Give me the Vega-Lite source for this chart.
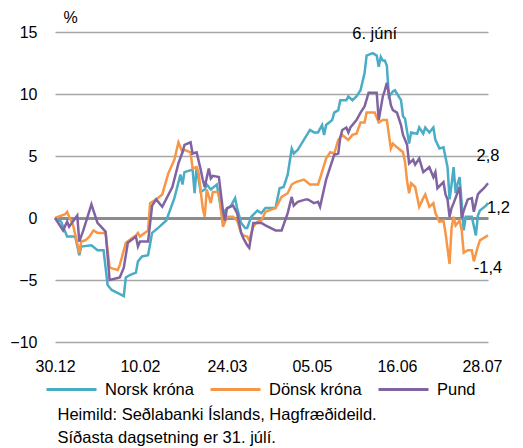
{
  "$schema": "https://vega.github.io/schema/vega-lite/v6.json",
  "width": 433,
  "height": 310,
  "autosize": {"type": "none"},
  "padding": {"left": 55, "top": 32, "right": 35, "bottom": 106},
  "background": "white",
  "config": {"view": {"stroke": null}, "font": "Liberation Sans"},
  "datasets": {
    "series": [
      {"s":"Norsk króna","d":"2019-12-30","v":0.0},
      {"s":"Norsk króna","d":"2020-01-02","v":-0.3},
      {"s":"Norsk króna","d":"2020-01-05","v":-1.5},
      {"s":"Norsk króna","d":"2020-01-09","v":-1.5},
      {"s":"Norsk króna","d":"2020-01-11","v":-3.0},
      {"s":"Norsk króna","d":"2020-01-12","v":-2.3},
      {"s":"Norsk króna","d":"2020-01-17","v":-2.2},
      {"s":"Norsk króna","d":"2020-01-20","v":-2.6},
      {"s":"Norsk króna","d":"2020-01-23","v":-2.6},
      {"s":"Norsk króna","d":"2020-01-25","v":-5.4},
      {"s":"Norsk króna","d":"2020-01-27","v":-5.8},
      {"s":"Norsk króna","d":"2020-02-02","v":-6.3},
      {"s":"Norsk króna","d":"2020-02-03","v":-4.8},
      {"s":"Norsk króna","d":"2020-02-05","v":-4.6},
      {"s":"Norsk króna","d":"2020-02-08","v":-4.4},
      {"s":"Norsk króna","d":"2020-02-09","v":-3.5},
      {"s":"Norsk króna","d":"2020-02-11","v":-3.1},
      {"s":"Norsk króna","d":"2020-02-14","v":-3.0},
      {"s":"Norsk króna","d":"2020-02-16","v":-1.2},
      {"s":"Norsk króna","d":"2020-02-19","v":-0.8},
      {"s":"Norsk króna","d":"2020-02-23","v":-0.2},
      {"s":"Norsk króna","d":"2020-02-27","v":1.6},
      {"s":"Norsk króna","d":"2020-03-01","v":3.5},
      {"s":"Norsk króna","d":"2020-03-02","v":2.7},
      {"s":"Norsk króna","d":"2020-03-03","v":3.7},
      {"s":"Norsk króna","d":"2020-03-07","v":3.9},
      {"s":"Norsk króna","d":"2020-03-08","v":2.0},
      {"s":"Norsk króna","d":"2020-03-09","v":4.1},
      {"s":"Norsk króna","d":"2020-03-11","v":2.1},
      {"s":"Norsk króna","d":"2020-03-13","v":2.3},
      {"s":"Norsk króna","d":"2020-03-14","v":2.7},
      {"s":"Norsk króna","d":"2020-03-16","v":2.3},
      {"s":"Norsk króna","d":"2020-03-19","v":2.7},
      {"s":"Norsk króna","d":"2020-03-22","v":-0.2},
      {"s":"Norsk króna","d":"2020-03-23","v":0.6},
      {"s":"Norsk króna","d":"2020-03-26","v":1.0},
      {"s":"Norsk króna","d":"2020-03-28","v":1.6},
      {"s":"Norsk króna","d":"2020-03-29","v":0.8},
      {"s":"Norsk króna","d":"2020-03-31","v":-0.4},
      {"s":"Norsk króna","d":"2020-04-02","v":-0.8},
      {"s":"Norsk króna","d":"2020-04-03","v":-0.8},
      {"s":"Norsk króna","d":"2020-04-05","v":0.1},
      {"s":"Norsk króna","d":"2020-04-08","v":0.6},
      {"s":"Norsk króna","d":"2020-04-10","v":0.4},
      {"s":"Norsk króna","d":"2020-04-12","v":0.8},
      {"s":"Norsk króna","d":"2020-04-17","v":0.8},
      {"s":"Norsk króna","d":"2020-04-19","v":2.4},
      {"s":"Norsk króna","d":"2020-04-21","v":2.5},
      {"s":"Norsk króna","d":"2020-04-23","v":3.5},
      {"s":"Norsk króna","d":"2020-04-25","v":5.6},
      {"s":"Norsk króna","d":"2020-04-26","v":5.2},
      {"s":"Norsk króna","d":"2020-04-28","v":5.5},
      {"s":"Norsk króna","d":"2020-05-04","v":7.1},
      {"s":"Norsk króna","d":"2020-05-06","v":6.9},
      {"s":"Norsk króna","d":"2020-05-08","v":6.9},
      {"s":"Norsk króna","d":"2020-05-10","v":7.5},
      {"s":"Norsk króna","d":"2020-05-11","v":6.7},
      {"s":"Norsk króna","d":"2020-05-12","v":7.5},
      {"s":"Norsk króna","d":"2020-05-15","v":7.9},
      {"s":"Norsk króna","d":"2020-05-16","v":8.5},
      {"s":"Norsk króna","d":"2020-05-18","v":8.7},
      {"s":"Norsk króna","d":"2020-05-19","v":9.5},
      {"s":"Norsk króna","d":"2020-05-22","v":9.5},
      {"s":"Norsk króna","d":"2020-05-23","v":9.8},
      {"s":"Norsk króna","d":"2020-05-25","v":9.5},
      {"s":"Norsk króna","d":"2020-05-27","v":9.8},
      {"s":"Norsk króna","d":"2020-05-29","v":10.3},
      {"s":"Norsk króna","d":"2020-05-31","v":11.7},
      {"s":"Norsk króna","d":"2020-06-01","v":13.1},
      {"s":"Norsk króna","d":"2020-06-04","v":13.3},
      {"s":"Norsk króna","d":"2020-06-06","v":13.1},
      {"s":"Norsk króna","d":"2020-06-07","v":12.2},
      {"s":"Norsk króna","d":"2020-06-08","v":13.0},
      {"s":"Norsk króna","d":"2020-06-09","v":12.7},
      {"s":"Norsk króna","d":"2020-06-10","v":12.7},
      {"s":"Norsk króna","d":"2020-06-11","v":12.3},
      {"s":"Norsk króna","d":"2020-06-12","v":9.8},
      {"s":"Norsk króna","d":"2020-06-14","v":10.2},
      {"s":"Norsk króna","d":"2020-06-15","v":10.3},
      {"s":"Norsk króna","d":"2020-06-18","v":9.5},
      {"s":"Norsk króna","d":"2020-06-19","v":8.2},
      {"s":"Norsk króna","d":"2020-06-20","v":8.0},
      {"s":"Norsk króna","d":"2020-06-22","v":6.0},
      {"s":"Norsk króna","d":"2020-06-23","v":6.9},
      {"s":"Norsk króna","d":"2020-06-26","v":6.8},
      {"s":"Norsk króna","d":"2020-06-27","v":7.3},
      {"s":"Norsk króna","d":"2020-06-29","v":6.8},
      {"s":"Norsk króna","d":"2020-06-30","v":7.3},
      {"s":"Norsk króna","d":"2020-07-02","v":6.9},
      {"s":"Norsk króna","d":"2020-07-04","v":7.3},
      {"s":"Norsk króna","d":"2020-07-05","v":6.3},
      {"s":"Norsk króna","d":"2020-07-07","v":5.6},
      {"s":"Norsk króna","d":"2020-07-09","v":5.7},
      {"s":"Norsk króna","d":"2020-07-11","v":4.1},
      {"s":"Norsk króna","d":"2020-07-12","v":1.5},
      {"s":"Norsk króna","d":"2020-07-13","v":2.7},
      {"s":"Norsk króna","d":"2020-07-14","v":4.1},
      {"s":"Norsk króna","d":"2020-07-15","v":2.0},
      {"s":"Norsk króna","d":"2020-07-16","v":2.8},
      {"s":"Norsk króna","d":"2020-07-17","v":3.3},
      {"s":"Norsk króna","d":"2020-07-19","v":-1.0},
      {"s":"Norsk króna","d":"2020-07-20","v":0.1},
      {"s":"Norsk króna","d":"2020-07-23","v":0.1},
      {"s":"Norsk króna","d":"2020-07-25","v":-1.4},
      {"s":"Norsk króna","d":"2020-07-26","v":0.2},
      {"s":"Norsk króna","d":"2020-07-27","v":0.6},
      {"s":"Norsk króna","d":"2020-07-30","v":1.0},
      {"s":"Norsk króna","d":"2020-07-31","v":1.2},

      {"s":"Dönsk króna","d":"2019-12-30","v":0.0},
      {"s":"Dönsk króna","d":"2020-01-04","v":0.3},
      {"s":"Dönsk króna","d":"2020-01-05","v":0.5},
      {"s":"Dönsk króna","d":"2020-01-06","v":0.1},
      {"s":"Dönsk króna","d":"2020-01-08","v":-0.6},
      {"s":"Dönsk króna","d":"2020-01-11","v":-2.8},
      {"s":"Dönsk króna","d":"2020-01-12","v":-1.9},
      {"s":"Dönsk króna","d":"2020-01-14","v":-1.8},
      {"s":"Dönsk króna","d":"2020-01-16","v":-1.5},
      {"s":"Dönsk króna","d":"2020-01-18","v":-1.0},
      {"s":"Dönsk króna","d":"2020-01-20","v":-1.2},
      {"s":"Dönsk króna","d":"2020-01-24","v":-1.2},
      {"s":"Dönsk króna","d":"2020-01-26","v":-4.0},
      {"s":"Dönsk króna","d":"2020-01-30","v":-4.2},
      {"s":"Dönsk króna","d":"2020-01-31","v":-3.8},
      {"s":"Dönsk króna","d":"2020-02-03","v":-2.0},
      {"s":"Dönsk króna","d":"2020-02-08","v":-1.4},
      {"s":"Dönsk króna","d":"2020-02-09","v":-1.2},
      {"s":"Dönsk króna","d":"2020-02-10","v":-1.5},
      {"s":"Dönsk króna","d":"2020-02-14","v":-1.0},
      {"s":"Dönsk króna","d":"2020-02-15","v":1.2},
      {"s":"Dönsk króna","d":"2020-02-18","v":1.5},
      {"s":"Dönsk króna","d":"2020-02-21","v":1.9},
      {"s":"Dönsk króna","d":"2020-02-24","v":3.6},
      {"s":"Dönsk króna","d":"2020-02-27","v":4.7},
      {"s":"Dönsk króna","d":"2020-02-29","v":6.1},
      {"s":"Dönsk króna","d":"2020-03-02","v":5.3},
      {"s":"Dönsk króna","d":"2020-03-03","v":5.5},
      {"s":"Dönsk króna","d":"2020-03-06","v":5.3},
      {"s":"Dönsk króna","d":"2020-03-07","v":4.0},
      {"s":"Dönsk króna","d":"2020-03-09","v":4.1},
      {"s":"Dönsk króna","d":"2020-03-10","v":3.6},
      {"s":"Dönsk króna","d":"2020-03-12","v":0.8},
      {"s":"Dönsk króna","d":"2020-03-13","v":0.1},
      {"s":"Dönsk króna","d":"2020-03-14","v":2.3},
      {"s":"Dönsk króna","d":"2020-03-16","v":1.2},
      {"s":"Dönsk króna","d":"2020-03-17","v":2.1},
      {"s":"Dönsk króna","d":"2020-03-20","v":2.1},
      {"s":"Dönsk króna","d":"2020-03-22","v":-0.7},
      {"s":"Dönsk króna","d":"2020-03-24","v":0.1},
      {"s":"Dönsk króna","d":"2020-03-27","v":0.1},
      {"s":"Dönsk króna","d":"2020-03-29","v":-0.2},
      {"s":"Dönsk króna","d":"2020-03-31","v":-1.2},
      {"s":"Dönsk króna","d":"2020-04-01","v":-1.4},
      {"s":"Dönsk króna","d":"2020-04-03","v":-1.5},
      {"s":"Dönsk króna","d":"2020-04-04","v":-1.8},
      {"s":"Dönsk króna","d":"2020-04-06","v":-0.7},
      {"s":"Dönsk króna","d":"2020-04-08","v":-0.3},
      {"s":"Dönsk króna","d":"2020-04-10","v":-0.2},
      {"s":"Dönsk króna","d":"2020-04-12","v":0.5},
      {"s":"Dönsk króna","d":"2020-04-17","v":0.8},
      {"s":"Dönsk króna","d":"2020-04-20","v":1.7},
      {"s":"Dönsk króna","d":"2020-04-23","v":2.0},
      {"s":"Dönsk króna","d":"2020-04-25","v":2.7},
      {"s":"Dönsk króna","d":"2020-04-27","v":2.9},
      {"s":"Dönsk króna","d":"2020-05-01","v":3.1},
      {"s":"Dönsk króna","d":"2020-05-04","v":2.7},
      {"s":"Dönsk króna","d":"2020-05-08","v":2.7},
      {"s":"Dönsk króna","d":"2020-05-09","v":3.2},
      {"s":"Dönsk króna","d":"2020-05-12","v":4.8},
      {"s":"Dönsk króna","d":"2020-05-14","v":5.3},
      {"s":"Dönsk króna","d":"2020-05-16","v":5.2},
      {"s":"Dönsk króna","d":"2020-05-18","v":6.3},
      {"s":"Dönsk króna","d":"2020-05-20","v":6.7},
      {"s":"Dönsk króna","d":"2020-05-23","v":6.3},
      {"s":"Dönsk króna","d":"2020-05-25","v":6.7},
      {"s":"Dönsk króna","d":"2020-05-27","v":6.8},
      {"s":"Dönsk króna","d":"2020-05-29","v":7.7},
      {"s":"Dönsk króna","d":"2020-05-31","v":7.7},
      {"s":"Dönsk króna","d":"2020-06-01","v":8.5},
      {"s":"Dönsk króna","d":"2020-06-05","v":8.5},
      {"s":"Dönsk króna","d":"2020-06-07","v":7.7},
      {"s":"Dönsk króna","d":"2020-06-09","v":7.9},
      {"s":"Dönsk króna","d":"2020-06-11","v":7.9},
      {"s":"Dönsk króna","d":"2020-06-13","v":5.6},
      {"s":"Dönsk króna","d":"2020-06-14","v":6.0},
      {"s":"Dönsk króna","d":"2020-06-16","v":5.7},
      {"s":"Dönsk króna","d":"2020-06-19","v":5.3},
      {"s":"Dönsk króna","d":"2020-06-20","v":4.5},
      {"s":"Dönsk króna","d":"2020-06-21","v":3.0},
      {"s":"Dönsk króna","d":"2020-06-22","v":2.0},
      {"s":"Dönsk króna","d":"2020-06-23","v":2.8},
      {"s":"Dönsk króna","d":"2020-06-25","v":2.5},
      {"s":"Dönsk króna","d":"2020-06-27","v":0.9},
      {"s":"Dönsk króna","d":"2020-06-29","v":1.6},
      {"s":"Dönsk króna","d":"2020-06-30","v":1.9},
      {"s":"Dönsk króna","d":"2020-07-02","v":0.9},
      {"s":"Dönsk króna","d":"2020-07-04","v":1.2},
      {"s":"Dönsk króna","d":"2020-07-05","v":0.4},
      {"s":"Dönsk króna","d":"2020-07-07","v":-0.3},
      {"s":"Dönsk króna","d":"2020-07-09","v":-0.2},
      {"s":"Dönsk króna","d":"2020-07-10","v":-1.2},
      {"s":"Dönsk króna","d":"2020-07-12","v":-3.7},
      {"s":"Dönsk króna","d":"2020-07-13","v":-0.8},
      {"s":"Dönsk króna","d":"2020-07-14","v":0.1},
      {"s":"Dönsk króna","d":"2020-07-15","v":-0.6},
      {"s":"Dönsk króna","d":"2020-07-17","v":-0.2},
      {"s":"Dönsk króna","d":"2020-07-18","v":-1.0},
      {"s":"Dönsk króna","d":"2020-07-19","v":-2.8},
      {"s":"Dönsk króna","d":"2020-07-21","v":-2.6},
      {"s":"Dönsk króna","d":"2020-07-23","v":-2.6},
      {"s":"Dönsk króna","d":"2020-07-24","v":-3.5},
      {"s":"Dönsk króna","d":"2020-07-26","v":-2.3},
      {"s":"Dönsk króna","d":"2020-07-27","v":-1.8},
      {"s":"Dönsk króna","d":"2020-07-29","v":-1.6},
      {"s":"Dönsk króna","d":"2020-07-31","v":-1.4},

      {"s":"Pund","d":"2019-12-30","v":0.0},
      {"s":"Pund","d":"2020-01-03","v":-1.0},
      {"s":"Pund","d":"2020-01-05","v":-0.3},
      {"s":"Pund","d":"2020-01-06","v":-0.7},
      {"s":"Pund","d":"2020-01-10","v":0.2},
      {"s":"Pund","d":"2020-01-11","v":-1.9},
      {"s":"Pund","d":"2020-01-13","v":-1.0},
      {"s":"Pund","d":"2020-01-17","v":1.1},
      {"s":"Pund","d":"2020-01-20","v":-0.4},
      {"s":"Pund","d":"2020-01-24","v":-1.1},
      {"s":"Pund","d":"2020-01-26","v":-5.0},
      {"s":"Pund","d":"2020-01-31","v":-4.8},
      {"s":"Pund","d":"2020-02-02","v":-4.0},
      {"s":"Pund","d":"2020-02-04","v":-2.0},
      {"s":"Pund","d":"2020-02-08","v":-1.5},
      {"s":"Pund","d":"2020-02-09","v":-2.3},
      {"s":"Pund","d":"2020-02-10","v":-1.9},
      {"s":"Pund","d":"2020-02-14","v":-1.9},
      {"s":"Pund","d":"2020-02-16","v":1.0},
      {"s":"Pund","d":"2020-02-18","v":1.5},
      {"s":"Pund","d":"2020-02-21","v":0.9},
      {"s":"Pund","d":"2020-02-26","v":2.5},
      {"s":"Pund","d":"2020-02-29","v":4.4},
      {"s":"Pund","d":"2020-03-02","v":5.3},
      {"s":"Pund","d":"2020-03-03","v":5.9},
      {"s":"Pund","d":"2020-03-06","v":6.1},
      {"s":"Pund","d":"2020-03-07","v":5.2},
      {"s":"Pund","d":"2020-03-09","v":5.3},
      {"s":"Pund","d":"2020-03-11","v":3.9},
      {"s":"Pund","d":"2020-03-12","v":3.1},
      {"s":"Pund","d":"2020-03-13","v":2.5},
      {"s":"Pund","d":"2020-03-15","v":4.0},
      {"s":"Pund","d":"2020-03-16","v":3.2},
      {"s":"Pund","d":"2020-03-17","v":3.4},
      {"s":"Pund","d":"2020-03-20","v":3.3},
      {"s":"Pund","d":"2020-03-22","v":0.6},
      {"s":"Pund","d":"2020-03-23","v":-0.2},
      {"s":"Pund","d":"2020-03-24","v":0.8},
      {"s":"Pund","d":"2020-03-27","v":1.0},
      {"s":"Pund","d":"2020-03-29","v":0.4},
      {"s":"Pund","d":"2020-03-31","v":-1.2},
      {"s":"Pund","d":"2020-04-01","v":-1.6},
      {"s":"Pund","d":"2020-04-03","v":-2.2},
      {"s":"Pund","d":"2020-04-04","v":-2.4},
      {"s":"Pund","d":"2020-04-06","v":-0.4},
      {"s":"Pund","d":"2020-04-10","v":-0.4},
      {"s":"Pund","d":"2020-04-12","v":-0.6},
      {"s":"Pund","d":"2020-04-17","v":-1.0},
      {"s":"Pund","d":"2020-04-20","v":-1.0},
      {"s":"Pund","d":"2020-04-23","v":0.4},
      {"s":"Pund","d":"2020-04-25","v":1.7},
      {"s":"Pund","d":"2020-04-26","v":1.0},
      {"s":"Pund","d":"2020-04-28","v":1.3},
      {"s":"Pund","d":"2020-05-02","v":1.5},
      {"s":"Pund","d":"2020-05-03","v":1.5},
      {"s":"Pund","d":"2020-05-06","v":1.2},
      {"s":"Pund","d":"2020-05-08","v":1.3},
      {"s":"Pund","d":"2020-05-09","v":0.9},
      {"s":"Pund","d":"2020-05-12","v":3.1},
      {"s":"Pund","d":"2020-05-14","v":4.1},
      {"s":"Pund","d":"2020-05-16","v":5.1},
      {"s":"Pund","d":"2020-05-18","v":5.2},
      {"s":"Pund","d":"2020-05-19","v":6.5},
      {"s":"Pund","d":"2020-05-20","v":7.1},
      {"s":"Pund","d":"2020-05-22","v":7.3},
      {"s":"Pund","d":"2020-05-23","v":6.9},
      {"s":"Pund","d":"2020-05-24","v":7.3},
      {"s":"Pund","d":"2020-05-27","v":7.9},
      {"s":"Pund","d":"2020-05-29","v":8.5},
      {"s":"Pund","d":"2020-05-31","v":9.0},
      {"s":"Pund","d":"2020-06-02","v":10.1},
      {"s":"Pund","d":"2020-06-04","v":10.1},
      {"s":"Pund","d":"2020-06-06","v":10.1},
      {"s":"Pund","d":"2020-06-07","v":7.9},
      {"s":"Pund","d":"2020-06-09","v":9.8},
      {"s":"Pund","d":"2020-06-10","v":10.3},
      {"s":"Pund","d":"2020-06-11","v":10.9},
      {"s":"Pund","d":"2020-06-13","v":9.1},
      {"s":"Pund","d":"2020-06-14","v":8.7},
      {"s":"Pund","d":"2020-06-16","v":8.5},
      {"s":"Pund","d":"2020-06-18","v":7.5},
      {"s":"Pund","d":"2020-06-19","v":6.7},
      {"s":"Pund","d":"2020-06-21","v":5.9},
      {"s":"Pund","d":"2020-06-22","v":4.4},
      {"s":"Pund","d":"2020-06-24","v":4.7},
      {"s":"Pund","d":"2020-06-25","v":4.3},
      {"s":"Pund","d":"2020-06-27","v":4.8},
      {"s":"Pund","d":"2020-06-29","v":3.7},
      {"s":"Pund","d":"2020-07-02","v":4.1},
      {"s":"Pund","d":"2020-07-04","v":3.3},
      {"s":"Pund","d":"2020-07-05","v":3.7},
      {"s":"Pund","d":"2020-07-06","v":2.4},
      {"s":"Pund","d":"2020-07-09","v":2.9},
      {"s":"Pund","d":"2020-07-10","v":1.9},
      {"s":"Pund","d":"2020-07-11","v":1.5},
      {"s":"Pund","d":"2020-07-12","v":0.1},
      {"s":"Pund","d":"2020-07-13","v":0.8},
      {"s":"Pund","d":"2020-07-14","v":1.2},
      {"s":"Pund","d":"2020-07-17","v":2.5},
      {"s":"Pund","d":"2020-07-18","v":0.0},
      {"s":"Pund","d":"2020-07-19","v":0.6},
      {"s":"Pund","d":"2020-07-21","v":1.5},
      {"s":"Pund","d":"2020-07-23","v":1.6},
      {"s":"Pund","d":"2020-07-24","v":0.5},
      {"s":"Pund","d":"2020-07-26","v":1.9},
      {"s":"Pund","d":"2020-07-27","v":2.1},
      {"s":"Pund","d":"2020-07-29","v":2.4},
      {"s":"Pund","d":"2020-07-31","v":2.8}
    ],
    "labelsC": [
      {"d":"2020-06-05","v":14.8,"t":"6. júní"},
      {"d":"2020-07-31","v":5.0,"t":"2,8"},
      {"d":"2020-07-31","v":-4.0,"t":"-1,4"}
    ],
    "labelsL": [
      {"d":"2020-07-31","v":0.8,"t":"1,2"}
    ]
  },
  "layer": [
    {
      "data": {"name": "series"},
      "mark": {"type": "line", "strokeWidth": 2.5, "interpolate": "linear"},
      "encoding": {
        "x": {
          "field": "d", "type": "temporal",
          "scale": {"type": "utc", "domain": [{"year": 2019, "month": 12, "date": 30, "utc": true}, {"year": 2020, "month": 7, "date": 31, "utc": true}]},
          "axis": {
            "values": [
              {"year": 2019, "month": 12, "date": 30, "utc": true},
              {"year": 2020, "month": 2, "date": 10, "utc": true},
              {"year": 2020, "month": 3, "date": 24, "utc": true},
              {"year": 2020, "month": 5, "date": 5, "utc": true},
              {"year": 2020, "month": 6, "date": 16, "utc": true},
              {"year": 2020, "month": 7, "date": 28, "utc": true}
            ],
            "labelExpr": "utcFormat(datum.value, '%d.%m')",
            "grid": false, "domain": false, "ticks": false,
            "labelPadding": 16, "labelFontSize": 16, "labelColor": "#000",
            "labelFlush": false, "labelOverlap": false,
            "title": ["Heimild: Seðlabanki Íslands, Hagfræðideild.", "Síðasta dagsetning er 31. júlí."],
            "titleX": 2, "titleY": 64, "titleAlign": "left", "titleAnchor": "start",
            "titleBaseline": "top", "titleFontWeight": "normal", "titleFontSize": 16.5,
            "titleLineHeight": 23, "titleColor": "#000"
          }
        },
        "y": {
          "field": "v", "type": "quantitative",
          "scale": {"domain": [-10, 15], "nice": false, "zero": false},
          "axis": {
            "values": [-10, -5, 0, 5, 10, 15],
            "grid": true,
            "gridColor": {"condition": {"test": "datum.value === 0", "value": "#8c8c8c"}, "value": "#a6a6a6"},
            "gridWidth": {"condition": {"test": "datum.value === 0", "value": 3}, "value": 1.5},
            "domain": false, "ticks": false,
            "labelPadding": 18, "labelFontSize": 16, "labelColor": "#000",
            "title": "%", "titleAngle": 0, "titleX": 8, "titleY": -15,
            "titleAlign": "left", "titleBaseline": "middle",
            "titleFontWeight": "normal", "titleFontSize": 16, "titleColor": "#000"
          }
        },
        "color": {
          "field": "s", "type": "nominal",
          "scale": {"domain": ["Norsk króna", "Dönsk króna", "Pund"], "range": ["#4bacc6", "#f79646", "#8064a2"]},
          "legend": {
            "orient": "none", "legendX": -10, "legendY": 331, "direction": "horizontal",
            "title": null, "symbolType": "stroke", "symbolSize": 2500, "symbolStrokeWidth": 3,
            "labelFontSize": 16.5, "labelColor": "#000", "labelOffset": 7,
            "columnPadding": 10, "padding": 0
          }
        }
      }
    },
    {
      "data": {"name": "labelsC"},
      "mark": {"type": "text", "fontSize": 16.5, "color": "#000", "align": "center", "baseline": "middle"},
      "encoding": {
        "x": {"field": "d", "type": "temporal"},
        "y": {"field": "v", "type": "quantitative"},
        "text": {"field": "t"}
      }
    },
    {
      "data": {"name": "labelsL"},
      "mark": {"type": "text", "fontSize": 16.5, "color": "#000", "align": "left", "baseline": "middle", "dx": -1},
      "encoding": {
        "x": {"field": "d", "type": "temporal"},
        "y": {"field": "v", "type": "quantitative"},
        "text": {"field": "t"}
      }
    }
  ]
}
